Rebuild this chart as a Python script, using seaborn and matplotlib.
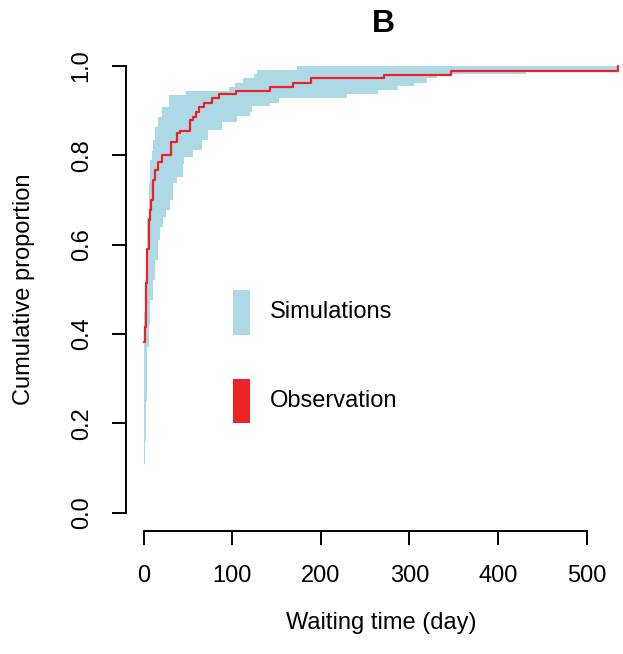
import numpy as np
import pandas as pd
import matplotlib
matplotlib.use('Agg')
import matplotlib.pyplot as plt
import seaborn as sns
from matplotlib.patches import Rectangle

# observed cumulative proportion (step function)
obs_day = [0.8, 1.8, 2.6, 3.7, 5.6, 7.1, 8.2, 10.5, 12.8, 16.5, 20.3, 30.8, 37.2, 41,
           52.3, 56, 59, 62.8, 68, 76.7, 85.3, 104, 143, 169, 189, 271.5, 347, 535.7]
obs_prop = [0.383, 0.416, 0.514, 0.59, 0.655, 0.677, 0.70, 0.745, 0.767, 0.786, 0.80, 0.83,
            0.849, 0.855, 0.879, 0.886, 0.898, 0.909, 0.918, 0.928, 0.937, 0.945, 0.953,
            0.963, 0.972, 0.980, 0.989, 1.0]

# simulation envelope
upper_day = [0, 1, 2.2, 4, 6.3, 7.5, 9, 10.8, 12.8, 16.5, 20.3, 28.6, 47.7, 96.6, 103,
             112, 124, 127.5, 172.7, 537]
upper_prop = [0.45, 0.52, 0.59, 0.663, 0.737, 0.79, 0.81, 0.834, 0.864, 0.886, 0.909, 0.935,
              0.944, 0.954, 0.963, 0.972, 0.982, 0.991, 1.0, 1.0]
lower_day = [0, 1.5, 2.6, 3.4, 4.1, 5.5, 7.1, 10, 12.8, 16, 18.4, 22.1, 25.2, 29.7, 33.4,
             37.2, 44.7, 46, 56, 65.5, 72.9, 88, 105, 120, 122, 143, 153, 229, 264, 287,
             305, 320, 331, 431, 537]
lower_prop = [0.11, 0.16, 0.25, 0.31, 0.372, 0.42, 0.476, 0.52, 0.566, 0.61, 0.64, 0.663,
              0.677, 0.70, 0.738, 0.752, 0.78, 0.797, 0.812, 0.834, 0.857, 0.875, 0.888,
              0.898, 0.911, 0.918, 0.928, 0.937, 0.946, 0.955, 0.963, 0.972, 0.982, 0.991,
              0.991]

x_ticks = [0, 100, 200, 300, 400, 500]
y_ticks = [0.0, 0.2, 0.4, 0.6, 0.8, 1.0]

sns.set_style('ticks')
plt.rcParams['font.family'] = ['Liberation Sans', 'DejaVu Sans']
plt.rcParams['text.color'] = 'black'
plt.rcParams['axes.labelcolor'] = 'black'
plt.rcParams['axes.edgecolor'] = 'black'

# evaluate both step envelopes on a common grid
t = np.union1d(upper_day, lower_day)
up = np.array(upper_prop)[np.searchsorted(upper_day, t, side='right') - 1]
lo = np.array(lower_prop)[np.searchsorted(lower_day, t, side='right') - 1]

obs = pd.DataFrame({'day': obs_day, 'prop': obs_prop})

blue = '#add8e6'
red = '#ee2127'
fs = 17

fig = plt.figure(figsize=(6.23, 6.54), dpi=100)
ax = fig.add_axes([126 / 623, 1 - 530.6 / 654, 497 / 623, 482.5 / 654])

ax.fill_between(t, lo, up, step='post', color=blue, linewidth=0)
sns.lineplot(data=obs, x='day', y='prop', ax=ax, color=red, linewidth=1.6,
             drawstyle='steps-post')

ax.set_xlim(-20, 541)
ax.set_ylim(-0.04, 1.04)
ax.set_xticks(x_ticks)
ax.set_xticklabels([str(v) for v in x_ticks])
ax.set_yticks(y_ticks)
ax.set_yticklabels(['%.1f' % v for v in y_ticks])
for lab in ax.get_yticklabels():
    lab.set_rotation(90)
    lab.set_va('center')

sns.despine(ax=ax)
ax.spines['left'].set_bounds(0, 1)
ax.spines['bottom'].set_bounds(0, 500)
for s in ['left', 'bottom']:
    ax.spines[s].set_linewidth(1.4)
    ax.spines[s].set_color('black')
ax.tick_params(direction='out', length=10, width=1.4, labelsize=fs, colors='black')
ax.tick_params(axis='x', pad=15)
ax.tick_params(axis='y', pad=14)

ax.set_xlabel('Waiting time (day)', fontsize=fs, color='black')
ax.set_ylabel('Cumulative proportion', fontsize=fs, color='black')
ax.xaxis.set_label_coords(0.514, -0.1915)
ax.xaxis.label.set_va('center')
ax.yaxis.set_label_coords(-0.205, 0.5)
ax.yaxis.label.set_va('center')

fig.text(383 / 623, 1 - 24 / 654, 'B', fontsize=23, fontweight='bold',
         ha='center', va='center', color='black')

# legend drawn as in base R
for (y0, y1, c, txt) in [(290, 335, blue, 'Simulations'), (379, 423, red, 'Observation')]:
    fig.patches.append(Rectangle((233 / 623, 1 - y1 / 654), 17 / 623, (y1 - y0) / 654,
                                 transform=fig.transFigure, color=c, linewidth=0))
    fig.text(270 / 623, 1 - (y0 + y1) / 2 / 654, txt, fontsize=fs, ha='left', va='center',
             color='black')

fig.savefig('out.png', dpi=100)
